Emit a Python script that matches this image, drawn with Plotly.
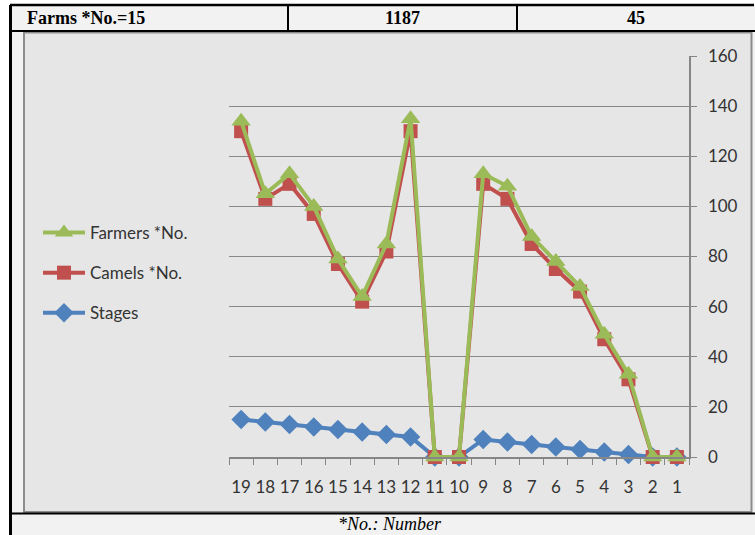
import plotly.graph_objects as go

W, H = 755, 535

categories = ["19", "18", "17", "16", "15", "14", "13", "12", "11", "10",
              "9", "8", "7", "6", "5", "4", "3", "2", "1"]
stages = [15, 14, 13, 12, 11, 10, 9, 8, 0, 0, 7, 6, 5, 4, 3, 2, 1, 0, 0]
camels = [130, 103, 109, 97, 77, 62, 82, 130, 0, 0, 109, 103, 85, 75, 66, 47, 31, 0, 0]
farmers = [134, 105, 113, 100, 79, 64, 85, 135, 0, 0, 113, 108, 88, 78, 68, 49, 33, 0, 0]
y_ticks = [0, 20, 40, 60, 80, 100, 120, 140, 160]
header = ["Farms *No.=15", "1187", "45"]
footer = "*No.: Number"

BLUE, RED, GREEN = "#4f81bd", "#c0504d", "#9bbb59"


def px(x):
    return x / W


def py(y):
    return 1 - y / H


fig = go.Figure()
fig.add_trace(go.Scatter(
    x=categories, y=stages, name="Stages", mode="lines+markers",
    line=dict(color=BLUE, width=4),
    marker=dict(symbol="diamond", size=15, color=BLUE),
    legendgroup="c", legendrank=3, cliponaxis=False))
fig.add_trace(go.Scatter(
    x=categories, y=camels, name="Camels *No.", mode="lines+markers",
    line=dict(color=RED, width=4),
    marker=dict(symbol="square", size=14, color=RED),
    legendgroup="b", legendrank=2, cliponaxis=False))
fig.add_trace(go.Scatter(
    x=categories, y=farmers, name="Farmers *No.", mode="lines+markers",
    line=dict(color=GREEN, width=4),
    marker=dict(symbol="triangle-up", size=17, color=GREEN),
    legendgroup="a", legendrank=1, cliponaxis=False))

shapes = []
# outer cell background
shapes.append(dict(type="rect", xref="paper", yref="paper", layer="below",
                   x0=px(10), x1=px(756), y0=py(5), y1=py(536),
                   fillcolor="#f2f2f2", line=dict(width=0)))
# chart box
shapes.append(dict(type="rect", xref="paper", yref="paper", layer="below",
                   x0=px(24), x1=px(751.5), y0=py(32.5), y1=py(512),
                   fillcolor="#e6e6e6", line=dict(color="#8c8c8c", width=2)))
# black table lines
for (x0, y0, x1, y1, w) in [
    (10, 5, 754, 5, 2.5),
    (10.5, 5, 10.5, 535, 3),
    (10, 31, 755, 31, 2),
    (288, 5, 288, 31, 2),
    (517, 5, 517, 31, 2),
    (10, 513.5, 755, 513.5, 2),
]:
    shapes.append(dict(type="line", xref="paper", yref="paper", layer="above",
                       x0=px(x0), x1=px(x1), y0=py(y0), y1=py(y1),
                       line=dict(color="black", width=w)))

annotations = [
    dict(text="<b>" + header[0] + "</b>", x=px(25), y=py(18), xanchor="left",
         yanchor="middle", showarrow=False, xref="paper", yref="paper",
         font=dict(family="Liberation Serif", size=18, color="black")),
    dict(text="<b>" + header[1] + "</b>", x=px(402), y=py(18), xanchor="center",
         yanchor="middle", showarrow=False, xref="paper", yref="paper",
         font=dict(family="Liberation Serif", size=18, color="black")),
    dict(text="<b>" + header[2] + "</b>", x=px(636), y=py(18), xanchor="center",
         yanchor="middle", showarrow=False, xref="paper", yref="paper",
         font=dict(family="Liberation Serif", size=18, color="black")),
    dict(text="<i>" + footer + "</i>", x=px(390), y=py(524), xanchor="center",
         yanchor="middle", showarrow=False, xref="paper", yref="paper",
         font=dict(family="Liberation Serif", size=18, color="black")),
]

fig.update_layout(
    width=W, height=H,
    margin=dict(l=0, r=0, t=0, b=0),
    paper_bgcolor="white",
    plot_bgcolor="rgba(0,0,0,0)",
    shapes=shapes,
    annotations=annotations,
    showlegend=True,
    legend=dict(x=px(38), y=py(215), xanchor="left", yanchor="top",
                traceorder="grouped", tracegroupgap=15, itemwidth=42,
                bgcolor="rgba(0,0,0,0)",
                font=dict(family="Lato", size=17, color="#333333")),
    xaxis=dict(domain=[px(229), px(689)], type="category",
               categoryorder="array", categoryarray=categories,
               range=[-0.5, 18.5], showgrid=False, zeroline=False,
               showline=True, linecolor="#868686", linewidth=1.5,
               ticks="outside", tickson="boundaries", ticklen=6,
               tickcolor="#868686", ticklabelstandoff=14, tickangle=0,
               tickfont=dict(family="Lato", size=17, color="#333333"),
               automargin=False, fixedrange=True),
    yaxis=dict(domain=[py(457), py(56)], range=[0, 160], side="right",
               tickvals=y_ticks, showgrid=True, gridcolor="#888888",
               gridwidth=1, zeroline=False, showline=True,
               linecolor="#868686", linewidth=1.5, ticks="outside",
               ticklen=6, tickcolor="#868686", ticklabelstandoff=8,
               tickfont=dict(family="Lato", size=17, color="#333333"),
               automargin=False, fixedrange=True),
)

fig.write_html("out.html",
               config={"displayModeBar": False, "staticPlot": True},
               post_script="document.body.style.margin='0';"
                           "document.body.style.overflow='hidden';")
